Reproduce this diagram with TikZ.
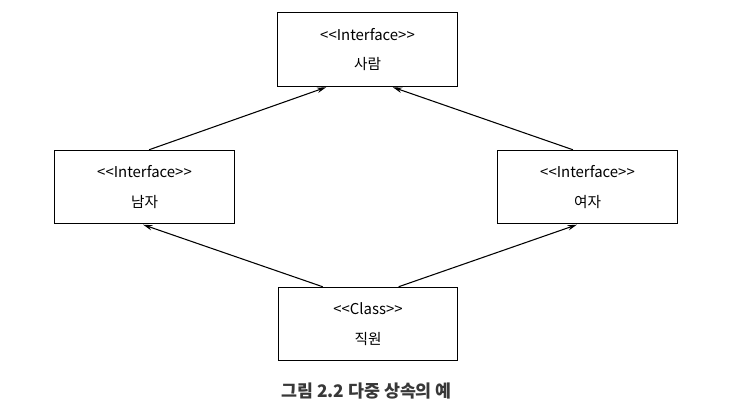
\documentclass[tikz,border=0pt]{standalone}
\usepackage{fontspec}
\setmainfont{Noto Sans CJK KR}
\usetikzlibrary{arrows.meta}
\newcommand{\stlo}{{<}{<}}
\newcommand{\sthi}{{>}{>}}
\newcommand{\latn}[1]{{\fontsize{11.2pt}{22pt}\selectfont #1}}
\tikzset{
  umlbox/.style={draw=black, line width=0.9pt, minimum width=134.5pt, minimum height=55pt, inner sep=0pt, align=center, font=\fontsize{11pt}{22pt}\selectfont},
  inherit/.style={draw=black, line width=0.8pt, -{Stealth[length=7pt,width=4pt]}, shorten >=1pt},
  caption/.style={font=\fontsize{13pt}{14pt}\selectfont\bfseries, text=black!78}
}
\begin{document}
\begin{tikzpicture}[x=0.75pt,y=-0.75pt]
\useasboundingbox[fill=white] (0,0) rectangle (750,418);
\node[umlbox] (person) at (367.5,49.5) {\latn{\stlo Interface\sthi}\\사람};
\node[umlbox] (man) at (144.5,187) {\latn{\stlo Interface\sthi}\\남자};
\node[umlbox] (woman) at (587.5,187) {\latn{\stlo Interface\sthi}\\여자};
\node[umlbox] (emp) at (368,324) {\latn{\stlo Class\sthi}\\직원};
\draw[inherit] ([xshift=3.5pt]man.north) -- ([xshift=-30pt]person.south);
\draw[inherit] ([xshift=-11pt]woman.north) -- ([xshift=18pt]person.south);
\draw[inherit] ([xshift=-34pt]emp.north) -- ([xshift=-2pt]man.south);
\draw[inherit] ([xshift=23pt]emp.north) -- ([xshift=-7pt]woman.south);
\node[caption] (cap) at (366.5,391) {그림 2.2 다중 상속의 예};
\end{tikzpicture}
\end{document}
